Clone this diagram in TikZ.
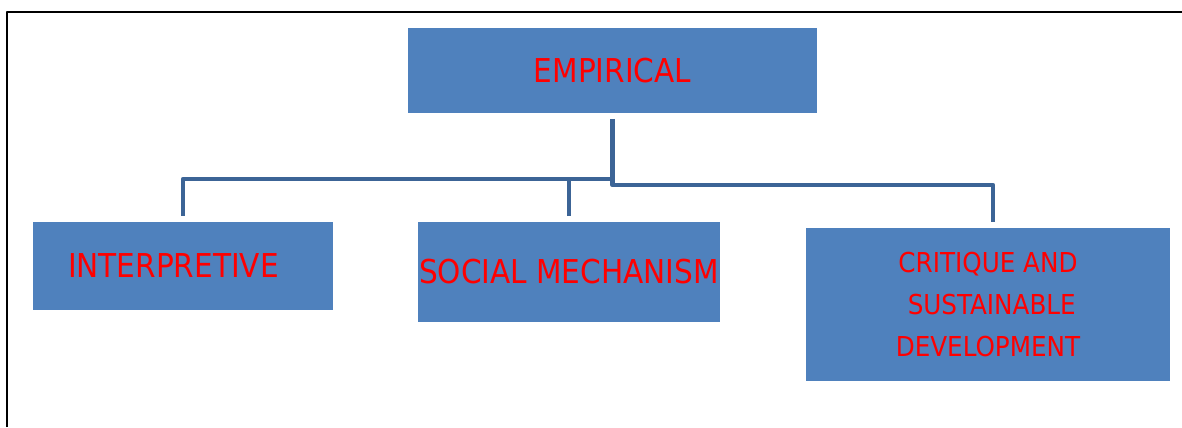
\documentclass[tikz,border=0pt]{standalone}
\usepackage{fontspec}
\setmainfont{DejaVu Sans Condensed}
\definecolor{boxblue}{HTML}{4F81BD}
\definecolor{linkblue}{HTML}{3C6496}
\definecolor{txtred}{HTML}{FF0000}

\begin{document}
\begin{tikzpicture}[line cap=butt,line join=round,x=0.02cm,y=0.02cm,
	box/.style={fill=boxblue,draw=none,inner sep=0pt,outer sep=0.12cm,text=txtred,font=\fontsize{18.7}{22}\selectfont},
	link/.style={draw=linkblue,line width=0.09cm},
	frame/.style={draw=black,line width=0.045cm}]
			\useasboundingbox (0,0) rectangle (1182,427);
			\draw [frame] (7,0)-- (7,415)-- (1182,415);
			\node [box,minimum width=8.18cm,minimum height=1.7cm] (emp) at (612.5,356.5) {EMPIRICAL};
			\node [box,minimum width=6cm,minimum height=1.76cm,text width=4.6cm,align=left] (interp) at (183,161) {INTERPRETIVE};
			\node [box,minimum width=6.04cm,minimum height=2cm] (soc) at (569,155) {SOCIAL MECHANISM};
			\node [box,minimum width=7.28cm,minimum height=3.06cm,align=center,font=\fontsize{15.6}{23.9}\selectfont] (crit) at (988,122.5) {CRITIQUE AND\\\hspace*{0.15cm}SUSTAINABLE\\DEVELOPMENT};
			\draw [link] (emp.south)-- ++(0,-66) -| ([xshift=0.1cm]crit.north);
			\draw [link] (emp.south) ++(0,-60) -| (interp.north);
			\draw [link] (soc.north)-- ++(0,37);
		\end{tikzpicture}
\end{document}
